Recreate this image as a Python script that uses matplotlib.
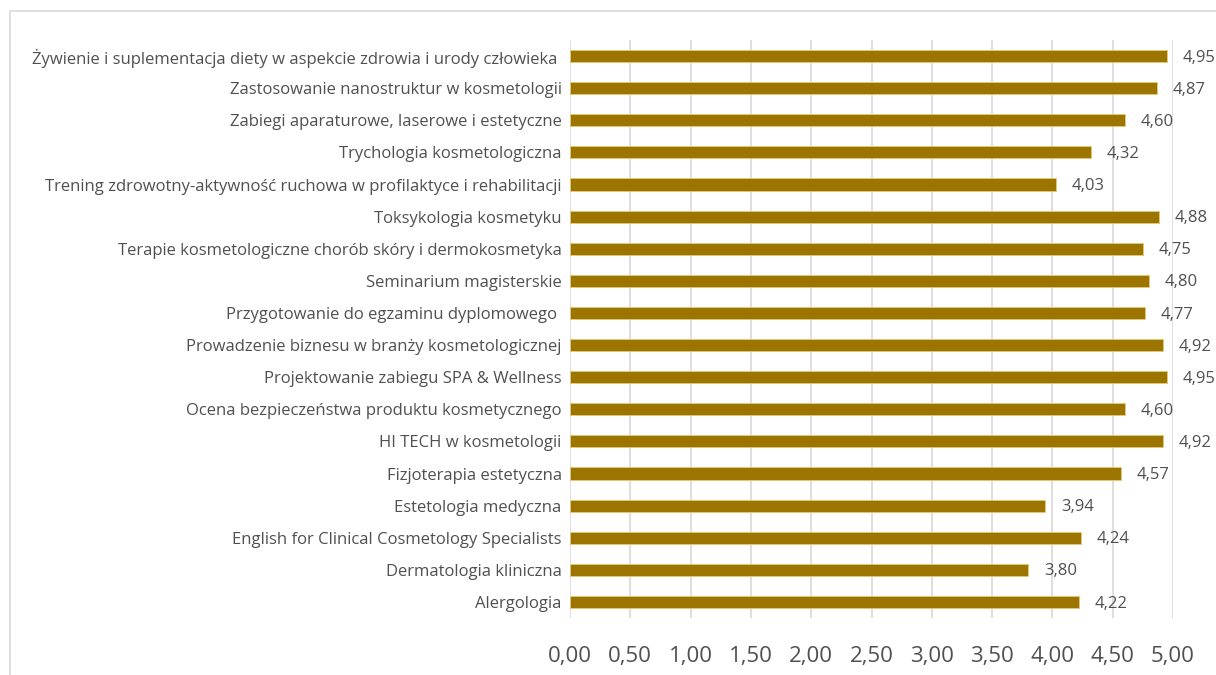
import matplotlib
matplotlib.use("Agg")
import matplotlib.pyplot as plt
from matplotlib.patches import Rectangle

categories = [
    "Żywienie i suplementacja diety w aspekcie zdrowia i urody człowieka ",
    "Zastosowanie nanostruktur w kosmetologii",
    "Zabiegi aparaturowe, laserowe i estetyczne",
    "Trychologia kosmetologiczna",
    "Trening zdrowotny-aktywność ruchowa w profilaktyce i rehabilitacji",
    "Toksykologia kosmetyku",
    "Terapie kosmetologiczne chorób skóry i dermokosmetyka",
    "Seminarium magisterskie",
    "Przygotowanie do egzaminu dyplomowego ",
    "Prowadzenie biznesu w branży kosmetologicznej",
    "Projektowanie zabiegu SPA & Wellness",
    "Ocena bezpieczeństwa produktu kosmetycznego",
    "HI TECH w kosmetologii",
    "Fizjoterapia estetyczna",
    "Estetologia medyczna",
    "English for Clinical Cosmetology Specialists",
    "Dermatologia kliniczna",
    "Alergologia",
]
values = [4.95, 4.87, 4.60, 4.32, 4.03, 4.88, 4.75, 4.80, 4.77, 4.92,
          4.95, 4.60, 4.92, 4.57, 3.94, 4.24, 3.80, 4.22]
xticks = [0.0, 0.5, 1.0, 1.5, 2.0, 2.5, 3.0, 3.5, 4.0, 4.5, 5.0]

plt.rcParams['font.family'] = ['Open Sans', 'DejaVu Sans']
text_color = '#505050'

fig = plt.figure(figsize=(12.16, 6.75), dpi=100)
fig.patches.append(Rectangle((10/1216, -0.1), 1.2, (675-11)/675 + 0.1,
                             transform=fig.transFigure, fill=False,
                             edgecolor='#d9d9d9', linewidth=1.2))
ax = fig.add_axes([570/1216, 1-618/675, (1173-570)/1216, (618-40)/675])

n = len(categories)
ypos = list(range(n - 1, -1, -1))
ax.barh(ypos, values, height=0.38, color='#9C7500', edgecolor='#e6c97a', linewidth=0.6, zorder=3)
for y, v in zip(ypos, values):
    ax.text(v + 0.13, y - 0.05, f"{v:.2f}".replace('.', ','), va='center', ha='left',
            fontsize=12, color=text_color)

ax.set_xlim(0, 5)
ax.set_ylim(-0.5, n - 0.5)
ax.set_yticks(ypos)
ax.set_yticklabels(categories, fontsize=12, color=text_color)
ax.tick_params(axis='both', length=0)
ax.set_xticks(xticks)
ax.set_xticklabels([f"{t:.2f}".replace('.', ',') for t in xticks], fontsize=16, color=text_color)
ax.tick_params(axis='y', pad=6)
ax.tick_params(axis='x', pad=20)
ax.grid(axis='x', color='#d9d9d9', linewidth=1.2, zorder=0)
for s in ax.spines.values():
    s.set_visible(False)

fig.savefig('out.png', dpi=100)
